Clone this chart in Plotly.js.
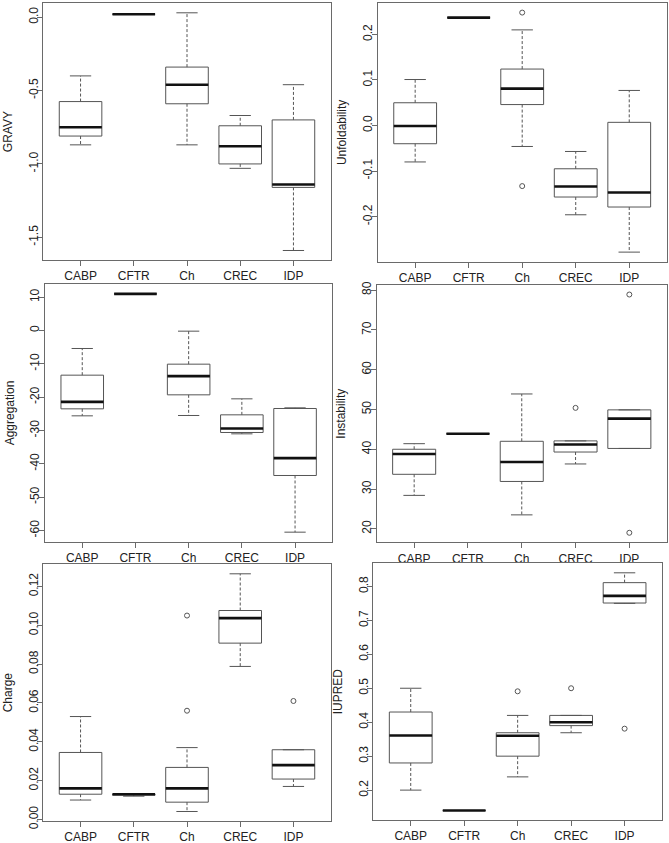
<!DOCTYPE html>
<html>
<head>
<meta charset="utf-8">
<script src="https://cdn.plot.ly/plotly-3.0.1.min.js"></script>
<style>html,body{margin:0;padding:0;background:#fff;}#chart{width:669px;height:843px;}</style>
</head>
<body>
<div id="chart"></div>
<script>
const categories = ['CABP', 'CFTR', 'Ch', 'CREC', 'IDP'];

// GRAVY
const gravyLow  = [-0.87, 0.02, -0.87, -1.03, -1.59];
const gravyQ1   = [-0.81, 0.02, -0.59, -1.00, -1.16];
const gravyMed  = [-0.75, 0.02, -0.46, -0.88, -1.14];
const gravyQ3   = [-0.575, 0.02, -0.34, -0.74, -0.70];
const gravyHigh = [-0.40, 0.02, 0.03, -0.67, -0.46];
const gravyOutCat = [];
const gravyOutVal = [];
const gravyTickVals = [0, -0.5, -1, -1.5];
const gravyTickText = ['0.0', '-0.5', '-1.0', '-1.5'];

// Unfoldability
const unfoldLow  = [-0.080, 0.237, -0.046, -0.196, -0.278];
const unfoldQ1   = [-0.040, 0.237, 0.046, -0.157, -0.179];
const unfoldMed  = [-0.001, 0.237, 0.081, -0.134, -0.147];
const unfoldQ3   = [0.050, 0.237, 0.124, -0.095, 0.007];
const unfoldHigh = [0.101, 0.237, 0.210, -0.057, 0.077];
const unfoldOutCat = ['Ch', 'Ch'];
const unfoldOutVal = [0.248, -0.133];
const unfoldTickVals = [0.2, 0.1, 0, -0.1, -0.2];
const unfoldTickText = ['0.2', '0.1', '0.0', '-0.1', '-0.2'];

// Aggregation
const aggLow  = [-25.6, 11.0, -25.5, -31.0, -60.5];
const aggQ1   = [-23.5, 11.0, -19.3, -30.6, -43.5];
const aggMed  = [-21.4, 11.0, -13.7, -29.4, -38.3];
const aggQ3   = [-13.4, 11.0, -10.1, -25.3, -23.4];
const aggHigh = [-5.4, 11.0, -0.2, -20.5, -23.2];
const aggOutCat = [];
const aggOutVal = [];
const aggTickVals = [10, 0, -10, -20, -30, -40, -50, -60];
const aggTickText = ['10', '0', '-10', '-20', '-30', '-40', '-50', '-60'];

// Instability
const instLow  = [28.4, 43.9, 23.5, 36.3, 40.2];
const instQ1   = [33.7, 43.9, 31.9, 39.3, 40.2];
const instMed  = [38.8, 43.9, 36.8, 41.2, 47.7];
const instQ3   = [40.0, 43.9, 42.0, 42.1, 49.9];
const instHigh = [41.4, 43.9, 53.9, 42.1, 49.9];
const instOutCat = ['CREC', 'IDP', 'IDP'];
const instOutVal = [50.4, 78.9, 19.0];
const instTickVals = [20, 30, 40, 50, 60, 70, 80];
const instTickText = ['20', '30', '40', '50', '60', '70', '80'];

// Charge
const chargeLow  = [0.010, 0.012, 0.0041, 0.0788, 0.017];
const chargeQ1   = [0.013, 0.0125, 0.0089, 0.0908, 0.0208];
const chargeMed  = [0.016, 0.013, 0.016, 0.1037, 0.028];
const chargeQ3   = [0.0345, 0.013, 0.0268, 0.1076, 0.0359];
const chargeHigh = [0.053, 0.013, 0.037, 0.1265, 0.0359];
const chargeOutCat = ['Ch', 'Ch', 'IDP'];
const chargeOutVal = [0.105, 0.056, 0.061];
const chargeTickVals = [0, 0.02, 0.04, 0.06, 0.08, 0.10, 0.12];
const chargeTickText = ['0.00', '0.02', '0.04', '0.06', '0.08', '0.10', '0.12'];

// IUPRED
const iupLow  = [0.20, 0.14, 0.239, 0.369, 0.750];
const iupQ1   = [0.28, 0.14, 0.300, 0.390, 0.751];
const iupMed  = [0.361, 0.14, 0.360, 0.400, 0.772];
const iupQ3   = [0.43, 0.14, 0.369, 0.420, 0.811];
const iupHigh = [0.50, 0.14, 0.420, 0.420, 0.840];
const iupOutCat = ['Ch', 'CREC', 'IDP'];
const iupOutVal = [0.491, 0.50, 0.381];
const iupTickVals = [0.2, 0.3, 0.4, 0.5, 0.6, 0.7, 0.8];
const iupTickText = ['0.2', '0.3', '0.4', '0.5', '0.6', '0.7', '0.8'];

// ---- build ----
const W = 669, H = 843;
const panels = [
  {title: 'GRAVY', low: gravyLow, q1: gravyQ1, med: gravyMed, q3: gravyQ3, high: gravyHigh, oc: gravyOutCat, ov: gravyOutVal, tv: gravyTickVals, tt: gravyTickText, px: [43.3, 330.7, 3.3, 260]},
  {title: 'Unfoldability', low: unfoldLow, q1: unfoldQ1, med: unfoldMed, q3: unfoldQ3, high: unfoldHigh, oc: unfoldOutCat, ov: unfoldOutVal, tv: unfoldTickVals, tt: unfoldTickText, px: [377.7, 666.7, 3, 261.7]},
  {title: 'Aggregation', low: aggLow, q1: aggQ1, med: aggMed, q3: aggQ3, high: aggHigh, oc: aggOutCat, ov: aggOutVal, tv: aggTickVals, tt: aggTickText, px: [45, 332.3, 284.3, 541.7]},
  {title: 'Instability', low: instLow, q1: instQ1, med: instMed, q3: instQ3, high: instHigh, oc: instOutCat, ov: instOutVal, tv: instTickVals, tt: instTickText, px: [376.5, 667, 285, 542.3]},
  {title: 'Charge', low: chargeLow, q1: chargeQ1, med: chargeMed, q3: chargeQ3, high: chargeHigh, oc: chargeOutCat, ov: chargeOutVal, tv: chargeTickVals, tt: chargeTickText, px: [43.3, 330.7, 564.3, 821]},
  {title: 'IUPRED', low: iupLow, q1: iupQ1, med: iupMed, q3: iupQ3, high: iupHigh, oc: iupOutCat, ov: iupOutVal, tv: iupTickVals, tt: iupTickText, px: [373.3, 662, 563.3, 820]}
];

const HW = 0.4, SW = 0.2;
const boxColor = '#555555', frameColor = '#6a6a6a', textColor = '#222222';
const traces = [];
const layout = {
  width: W, height: H, margin: {l: 0, r: 0, t: 0, b: 0},
  paper_bgcolor: '#ffffff', plot_bgcolor: '#ffffff', showlegend: false,
  font: {family: 'Liberation Sans, Arial, sans-serif', size: 12, color: textColor}
};

panels.forEach((p, k) => {
  const n = k + 1;
  const xa = 'x' + (n === 1 ? '' : n), ya = 'y' + (n === 1 ? '' : n);
  const bx = [], by = [], wx = [], wy = [], sx = [], sy = [], mx = [], my = [];
  categories.forEach((c, j) => {
    const i = j + 1;
    bx.push(i - HW, i + HW, i + HW, i - HW, i - HW, null);
    by.push(p.q1[j], p.q1[j], p.q3[j], p.q3[j], p.q1[j], null);
    wx.push(i, i, null, i, i, null);
    wy.push(p.q3[j], p.high[j], null, p.q1[j], p.low[j], null);
    sx.push(i - SW, i + SW, null, i - SW, i + SW, null);
    sy.push(p.high[j], p.high[j], null, p.low[j], p.low[j], null);
    mx.push(i - HW, i + HW, null);
    my.push(p.med[j], p.med[j], null);
  });
  const common = {xaxis: xa, yaxis: ya, mode: 'lines', hoverinfo: 'skip', connectgaps: false};
  traces.push(Object.assign({x: wx, y: wy, line: {color: boxColor, width: 1, dash: '3px,2px'}}, common));
  traces.push(Object.assign({x: sx, y: sy, line: {color: boxColor, width: 1}}, common));
  traces.push(Object.assign({x: bx, y: by, line: {color: boxColor, width: 1}}, common));
  traces.push(Object.assign({x: mx, y: my, line: {color: '#111111', width: 2.6}}, common));
  if (p.oc.length) {
    traces.push({xaxis: xa, yaxis: ya, mode: 'markers', hoverinfo: 'skip',
      x: p.oc.map(c => categories.indexOf(c) + 1), y: p.ov,
      marker: {symbol: 'circle-open', size: 5, color: boxColor, line: {width: 1, color: boxColor}}});
  }
  // R-like range: data extent padded 4%
  const all = [].concat(p.low, p.high, p.ov);
  const mn = Math.min(...all), mxv = Math.max(...all), pad = 0.04 * (mxv - mn);
  const [l, r, t, b] = p.px;
  layout['xaxis' + (n === 1 ? '' : n)] = {
    domain: [l / W, r / W], anchor: ya, range: [0.3, 5.7],
    tickmode: 'array', tickvals: categories.map((c, j) => j + 1), ticktext: categories,
    showline: true, mirror: true, linecolor: frameColor, linewidth: 1,
    ticks: 'outside', ticklen: 5, tickcolor: frameColor, tickwidth: 1,
    showgrid: false, zeroline: false, fixedrange: true,
    tickfont: {size: 12, color: textColor}
  };
  layout['yaxis' + (n === 1 ? '' : n)] = {
    domain: [1 - b / H, 1 - t / H], anchor: xa, range: [mn - pad, mxv + pad],
    tickmode: 'array', tickvals: p.tv, ticktext: p.tt, tickangle: -90,
    ticklabelstandoff: -5,
    showline: true, mirror: true, linecolor: frameColor, linewidth: 1,
    ticks: 'outside', ticklen: 5, tickcolor: frameColor, tickwidth: 1,
    showgrid: false, zeroline: false, fixedrange: true,
    tickfont: {size: 12, color: textColor},
    title: {text: p.title, font: {size: 12, color: textColor}, standoff: 11}
  };
});

Plotly.newPlot('chart', traces, layout, {staticPlot: true, displayModeBar: false});
</script>
</body>
</html>
